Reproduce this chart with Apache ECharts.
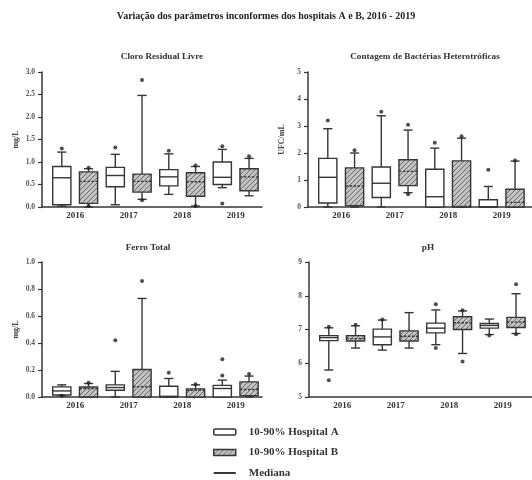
<!DOCTYPE html>
<html><head><meta charset="utf-8">
<script src="https://cdn.jsdelivr.net/npm/echarts@6/dist/echarts.min.js"></script>
<style>html,body{margin:0;padding:0;background:#fff}#c{width:532px;height:480px}</style>
</head><body><div id="c"></div>
<script>
const years = ['2016', '2017', '2018', '2019'];
const mainTitle = 'Variação dos parâmetros inconformes dos hospitais A e B, 2016 - 2019';
const panelTitles = ['Cloro Residual Livre', 'Contagem de Bactérias Heterotróficas', 'Ferro Total', 'pH'];
const yNames = ['mg/L', 'UFC/mL', 'mg/L', ''];
const legendNames = ['10-90% Hospital A', '10-90% Hospital B', 'Mediana'];

// each box: [lower whisker, Q1, median, Q3, upper whisker]
const cloroA = [[0.02, 0.05, 0.65, 0.90, 1.22], [0.05, 0.45, 0.70, 0.88, 1.17], [0.28, 0.47, 0.67, 0.83, 1.18], [0.43, 0.50, 0.66, 1.00, 1.28]];
const cloroB = [[0.00, 0.08, 0.57, 0.78, 0.85], [0.17, 0.33, 0.57, 0.73, 2.48], [0.02, 0.24, 0.56, 0.76, 0.90], [0.25, 0.36, 0.67, 0.85, 1.08]];
const bactA = [[0, 0.15, 1.10, 1.80, 2.90], [0, 0.35, 0.88, 1.48, 3.38], [0, 0, 0.38, 1.40, 2.18], [0, 0, 0, 0.27, 0.76]];
const bactB = [[0, 0.05, 0.78, 1.45, 2.00], [0.53, 0.79, 1.32, 1.75, 2.85], [0, 0, 0.02, 1.71, 2.55], [0, 0, 0.17, 0.66, 1.70]];
const ferroA = [[0.01, 0.015, 0.045, 0.075, 0.09], [0.0, 0.05, 0.07, 0.09, 0.19], [0, 0, 0.005, 0.08, 0.137], [0, 0, 0.063, 0.086, 0.125]];
const ferroB = [[0, 0, 0.062, 0.074, 0.10], [0, 0, 0.076, 0.204, 0.73], [0, 0, 0.05, 0.06, 0.09], [0, 0.01, 0.056, 0.112, 0.155]];
const phA = [[5.80, 6.67, 6.76, 6.82, 7.05], [6.39, 6.55, 6.78, 7.01, 7.28], [6.55, 6.90, 7.04, 7.19, 7.58], [6.85, 7.04, 7.12, 7.18, 7.31]];
const phB = [[6.45, 6.66, 6.73, 6.82, 7.11], [6.45, 6.66, 6.80, 6.96, 7.50], [6.29, 7.00, 7.20, 7.38, 7.55], [6.88, 7.06, 7.22, 7.36, 8.06]];

// outliers: [year index, value]
const cloroOutA = [[0, 1.30], [1, 1.32], [2, 1.25], [3, 1.35], [3, 0.08]];
const cloroOutB = [[0, 0.87], [0, 0.02], [1, 2.82], [1, 0.15], [2, 0.92], [2, 0.02], [3, 1.13]];
const bactOutA = [[0, 3.20], [1, 3.53], [2, 2.38], [3, 1.38]];
const bactOutB = [[0, 2.10], [1, 3.05], [1, 0.47], [2, 2.62], [3, 1.72]];
const ferroOutA = [[0, 0.01], [1, 0.42], [2, 0.18], [3, 0.16], [3, 0.28]];
const ferroOutB = [[0, 0.105], [1, 0.86], [2, 0.095], [3, 0.17]];
const phOutA = [[0, 5.50], [0, 7.08], [1, 7.30], [2, 7.75], [2, 6.45], [3, 6.82]];
const phOutB = [[0, 7.14], [2, 7.57], [2, 6.05], [3, 8.34], [3, 6.86]];

const yMin = [0, 0, 0, 5];
const yMax = [3, 5, 1, 9];
const yStep = [0.5, 1, 0.2, 1];
const yDecimals = [1, 0, 1, 0];

const boxesA = [cloroA, bactA, ferroA, phA];
const boxesB = [cloroB, bactB, ferroB, phB];
const outA = [cloroOutA, bactOutA, ferroOutA, phOutA];
const outB = [cloroOutB, bactOutB, ferroOutB, phOutB];

const FONT = '"Liberation Serif", "DejaVu Serif", serif';
const INK = '#363636';

const hatch = document.createElement('canvas');
hatch.width = 5; hatch.height = 5;
const hc = hatch.getContext('2d');
hc.fillStyle = '#c2c2c2'; hc.fillRect(0, 0, 5, 5);
hc.strokeStyle = '#6a6a6a'; hc.lineWidth = 1;
hc.beginPath();
hc.moveTo(0, 5); hc.lineTo(5, 0);
hc.moveTo(-1, 1); hc.lineTo(1, -1);
hc.moveTo(4, 6); hc.lineTo(6, 4);
hc.stroke();
const hatchFill = { image: hatch, repeat: 'repeat' };

const grids = [
  { left: 42, top: 72, width: 220, height: 135 },
  { left: 308, top: 72, width: 224, height: 135 },
  { left: 42, top: 262, width: 220, height: 135 },
  { left: 309, top: 262, width: 223, height: 135 }
];
const titlePos = [[157, 47], [420, 47], [143, 238], [423, 238]];
const X_MIN = -0.62, UNIT_PX = 53.5;

function renderBox(isB) {
  return function (params, api) {
    const x = api.value(0);
    const lo = api.coord([x, api.value(1)]);
    const q1 = api.coord([x, api.value(2)]);
    const md = api.coord([x, api.value(3)]);
    const q3 = api.coord([x, api.value(4)]);
    const hi = api.coord([x, api.value(5)]);
    const unit = api.size([1, 0])[0];
    const bw = unit * 0.34, cw = unit * 0.17;
    const cx = lo[0];
    const ls = { stroke: INK, lineWidth: 1.4, fill: null };
    return {
      type: 'group', children: [
        { type: 'line', shape: { x1: cx, y1: hi[1], x2: cx, y2: q3[1] }, style: ls },
        { type: 'line', shape: { x1: cx, y1: q1[1], x2: cx, y2: lo[1] }, style: ls },
        { type: 'line', shape: { x1: cx - cw / 2, y1: hi[1], x2: cx + cw / 2, y2: hi[1] }, style: ls },
        { type: 'line', shape: { x1: cx - cw / 2, y1: lo[1], x2: cx + cw / 2, y2: lo[1] }, style: ls },
        { type: 'rect', shape: { x: cx - bw / 2, y: q3[1], width: bw, height: q1[1] - q3[1] },
          style: { fill: isB ? hatchFill : '#fff', stroke: INK, lineWidth: 1.4 } },
        { type: 'line', shape: { x1: cx - bw / 2, y1: md[1], x2: cx + bw / 2, y2: md[1] },
          style: isB ? { stroke: INK, lineWidth: 1.4, lineDash: [2.5, 1.5] } : ls }
      ]
    };
  };
}

const xAxes = [], yAxes = [], series = [], titles = [];
titles.push({ text: mainTitle, left: 'center', top: 6,
  textStyle: { fontFamily: FONT, fontWeight: 'bold', fontSize: 10, color: '#222' } });

for (let i = 0; i < 4; i++) {
  const g = grids[i];
  titles.push({ text: panelTitles[i], left: titlePos[i][0], top: titlePos[i][1], textAlign: 'center',
    textStyle: { fontFamily: FONT, fontWeight: 'bold', fontSize: 9.2, color: '#333' } });
  xAxes.push({
    gridIndex: i, type: 'value', min: X_MIN, max: X_MIN + g.width / UNIT_PX,
    axisLine: { show: true, onZero: false, lineStyle: { color: INK, width: 1.5 } },
    axisTick: { show: false }, splitLine: { show: false },
    axisLabel: { customValues: [0, 1, 2, 3], formatter: v => years[Math.round(v)] || '',
      fontFamily: FONT, fontWeight: 'bold', fontSize: 9, color: '#333', margin: 4 }
  });
  yAxes.push({
    gridIndex: i, type: 'value', min: yMin[i], max: yMax[i], interval: yStep[i],
    axisLine: { show: true, onZero: false, lineStyle: { color: INK, width: 1.5 } },
    axisTick: { show: true, length: 4, lineStyle: { color: INK, width: 1.2 } },
    splitLine: { show: false },
    axisLabel: { formatter: v => v.toFixed(yDecimals[i]), fontFamily: FONT, fontWeight: 'bold',
      fontSize: 7.5, color: '#555', margin: 7 },
    name: yNames[i], nameLocation: 'middle', nameRotate: 90, nameGap: 22,
    nameTextStyle: { fontFamily: FONT, fontWeight: 'bold', fontSize: 8, color: '#444' }
  });
  series.push({
    type: 'custom', name: legendNames[0], xAxisIndex: i, yAxisIndex: i,
    itemStyle: { color: '#fff', borderColor: INK, borderWidth: 1.5 },
    renderItem: renderBox(false), encode: { x: 0, y: [1, 2, 3, 4, 5] },
    data: boxesA[i].map((d, k) => [k - 0.25].concat(d))
  });
  series.push({
    type: 'custom', name: legendNames[1], xAxisIndex: i, yAxisIndex: i,
    itemStyle: { color: hatchFill, borderColor: INK, borderWidth: 1.5 },
    renderItem: renderBox(true), encode: { x: 0, y: [1, 2, 3, 4, 5] },
    data: boxesB[i].map((d, k) => [k + 0.25].concat(d))
  });
  series.push({
    type: 'scatter', xAxisIndex: i, yAxisIndex: i, symbol: 'circle', symbolSize: 4,
    itemStyle: { color: '#222' }, z: 5,
    data: outA[i].map(p => [p[0] - 0.25, p[1]]).concat(outB[i].map(p => [p[0] + 0.25, p[1]]))
  });
}
series.push({ type: 'line', name: legendNames[2], xAxisIndex: 0, yAxisIndex: 0, data: [],
  symbol: 'none', color: INK, lineStyle: { color: INK, width: 2 } });

const chart = echarts.init(document.getElementById('c'), null, { renderer: 'canvas' });
chart.setOption({
  backgroundColor: '#fff',
  animation: false,
  title: titles,
  grid: grids,
  xAxis: xAxes,
  yAxis: yAxes,
  legend: {
    orient: 'vertical', left: 213, top: 426, padding: 0, itemWidth: 22, itemHeight: 6, itemGap: 8.5,
    selectedMode: false, symbolKeepAspect: true,
    textStyle: { fontFamily: FONT, fontWeight: 'bold', fontSize: 11, lineHeight: 12, color: '#333', padding: [0, 0, 0, 8] },
    data: [
      { name: legendNames[0], icon: 'roundRect', itemStyle: { color: '#fff', borderColor: INK, borderWidth: 1.5 } },
      { name: legendNames[1], icon: 'rect', itemStyle: { color: hatchFill, borderColor: INK, borderWidth: 1.5 } },
      { name: legendNames[2], icon: 'path://M0,0H22V2H0Z', itemStyle: { color: INK, borderWidth: 0 } }
    ]
  },
  series: series
});
</script>
</body></html>
